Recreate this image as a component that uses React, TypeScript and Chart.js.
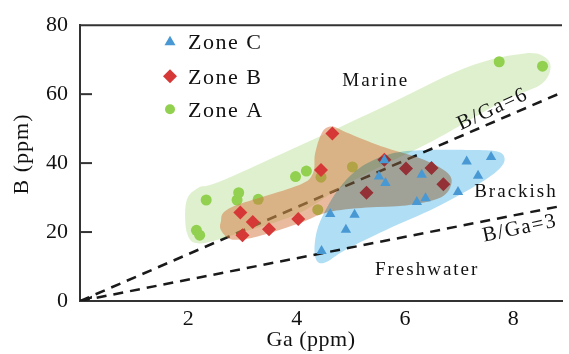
import React, { useEffect, useRef } from "react";
import { Chart, registerables } from "chart.js";

Chart.register(...registerables);

// ---- data ----
const zoneCGa = [4.46, 4.62, 4.91, 5.07, 5.52, 5.62, 5.64, 6.22, 6.31, 6.38, 6.98, 7.14, 7.35, 7.59];
const zoneCB = [14.5, 25.2, 20.7, 25.0, 36.1, 40.8, 34.2, 28.7, 36.6, 29.8, 31.6, 40.5, 36.3, 41.8];

const zoneBGa = [2.96, 3.0, 3.19, 3.49, 4.03, 4.45, 4.66, 5.29, 5.62, 6.02, 6.49, 6.71];
const zoneBB = [25.7, 19.1, 22.9, 20.8, 23.8, 38.0, 48.6, 31.4, 41.0, 38.4, 38.6, 33.9];

const zoneAGa = [2.15, 2.21, 2.33, 2.9, 2.93, 3.29, 3.98, 4.18, 4.39, 4.45, 5.03, 7.74, 8.54];
const zoneAB = [20.5, 19.1, 29.3, 29.3, 31.4, 29.5, 36.1, 37.7, 26.5, 35.9, 38.9, 69.4, 68.1];

// envelopes (Ga, B)
const envelopeAGa = [1.96, 2.18, 2.73, 5.29, 7.11, 8.21, 8.61, 8.68, 8.48, 7.84, 6.57, 5.47, 4.72, 3.98, 2.9, 2.22, 1.98];
const envelopeAB = [28.6, 32.8, 35.6, 54.0, 67.6, 71.8, 70.4, 66.7, 62.5, 58.2, 46.9, 38.4, 32.0, 25.0, 19.5, 16.7, 19.5];

const envelopeBGa = [2.6, 2.79, 4.01, 4.3, 4.34, 4.47, 4.65, 4.92, 5.56, 6.29, 6.75, 6.86, 6.66, 6.02, 5.29, 4.56, 4.01, 3.28, 2.82, 2.62];
const envelopeBB = [22.9, 27.1, 33.4, 37.0, 42.7, 48.9, 50.6, 48.9, 44.9, 41.3, 37.6, 34.2, 30.0, 27.7, 27.1, 25.7, 22.3, 18.7, 17.8, 20.1];

const envelopeCGa = [4.34, 4.37, 4.56, 4.83, 5.2, 5.74, 6.38, 7.3, 7.72, 7.84, 7.75, 7.39, 6.57, 5.65, 4.92, 4.5];
const envelopeCB = [13.0, 20.1, 27.1, 33.6, 39.0, 42.7, 43.8, 43.8, 43.3, 41.3, 38.4, 34.2, 27.1, 20.6, 15.0, 11.0];

// ratio reference lines (Ga, B) as drawn
const line6Ga = [0, 8.9];
const line6B = [0, 60.5];
const line3Ga = [0, 8.9];
const line3B = [0, 27.6];

const xTickValues = [2, 4, 6, 8];
const yTickValues = [0, 20, 40, 60, 80];

const seriesNames = ["Zone C", "Zone B", "Zone A"];

const regionLabels = ["Marine", "Brackish", "Freshwater"];
const regionLabelGa = [5.46, 8.05, 6.41];
const regionLabelB = [63.9, 31.7, 9.0];

const ratioLabels = ["B/Ga=6", "B/Ga=3"];
const ratioLabelGa = [7.62, 8.12];
const ratioLabelB = [55.6, 21.0];

const xTitle = "Ga (ppm)";
const yTitle = "B (ppm)";

// ---- styles ----
const FONT = "'Liberation Serif', 'Times New Roman', serif";
const blue = "rgb(72,152,212)";
const red = "rgb(214,56,56)";
const green = "rgb(146,208,80)";

const zip = (xs: number[], ys: number[]) => xs.map((x, i) => ({ x, y: ys[i] }));

function closedSpline(ctx: CanvasRenderingContext2D, pts: { x: number; y: number }[]) {
  const n = pts.length;
  ctx.beginPath();
  ctx.moveTo(pts[0].x, pts[0].y);
  for (let i = 0; i < n; i++) {
    const p0 = pts[(i - 1 + n) % n];
    const p1 = pts[i];
    const p2 = pts[(i + 1) % n];
    const p3 = pts[(i + 2) % n];
    const c1x = p1.x + (p2.x - p0.x) / 6;
    const c1y = p1.y + (p2.y - p0.y) / 6;
    const c2x = p2.x - (p3.x - p1.x) / 6;
    const c2y = p2.y - (p3.y - p1.y) / 6;
    ctx.bezierCurveTo(c1x, c1y, c2x, c2y, p2.x, p2.y);
  }
  ctx.closePath();
}

const regions: Record<number, { xs: number[]; ys: number[]; color: string; op: GlobalCompositeOperation }> = {
  2: { xs: envelopeAGa, ys: envelopeAB, color: "rgba(145,205,88,0.3)", op: "source-over" },
  1: { xs: envelopeBGa, ys: envelopeBB, color: "rgba(212,118,62,0.5)", op: "source-over" },
  0: { xs: envelopeCGa, ys: envelopeCB, color: "rgb(175,222,245)", op: "multiply" },
};

const decor = {
  id: "decor",
  beforeDatasetDraw(chart: any, args: any) {
    const r = regions[args.index];
    if (!r) return;
    const { ctx, chartArea, scales } = chart;
    const pts = r.xs.map((x, i) => ({ x: scales.x.getPixelForValue(x), y: scales.y.getPixelForValue(r.ys[i]) }));
    ctx.save();
    ctx.beginPath();
    ctx.rect(chartArea.left, chartArea.top, chartArea.right - chartArea.left, chartArea.bottom - chartArea.top);
    ctx.clip();
    ctx.globalCompositeOperation = r.op;
    ctx.fillStyle = r.color;
    closedSpline(ctx, pts);
    ctx.fill();
    ctx.restore();
  },
  afterDraw(chart: any) {
    const { ctx, chartArea, scales } = chart;
    const xs = scales.x;
    const ys = scales.y;
    ctx.save();
    // top frame line
    ctx.strokeStyle = "#333";
    ctx.lineWidth = 2;
    ctx.beginPath();
    ctx.moveTo(chartArea.left, chartArea.top);
    ctx.lineTo(chartArea.right, chartArea.top);
    ctx.stroke();
    // inward y ticks
    yTickValues.forEach((v) => {
      if (v === 0 || v === 80) return;
      const py = ys.getPixelForValue(v);
      ctx.beginPath();
      ctx.moveTo(chartArea.left, py);
      ctx.lineTo(chartArea.left + 12, py);
      ctx.stroke();
    });
    // small wedge at the origin where the ratio lines meet
    const wx = 0.22;
    ctx.fillStyle = "#1a1a1a";
    ctx.beginPath();
    ctx.moveTo(xs.getPixelForValue(0), ys.getPixelForValue(0));
    ctx.lineTo(xs.getPixelForValue(wx), ys.getPixelForValue((line6B[1] / line6Ga[1]) * wx));
    ctx.lineTo(xs.getPixelForValue(wx), ys.getPixelForValue((line3B[1] / line3Ga[1]) * wx));
    ctx.closePath();
    ctx.fill();

    // axis titles
    ctx.fillStyle = "#111";
    ctx.textAlign = "center";
    ctx.textBaseline = "middle";
    ctx.font = `22px ${FONT}`;
    (ctx as any).letterSpacing = "0.5px";
    ctx.fillText(xTitle, 311, 340);
    ctx.save();
    ctx.translate(22, 154);
    ctx.rotate(-Math.PI / 2);
    (ctx as any).letterSpacing = "1px";
    ctx.fillText(yTitle, 0, 0);
    ctx.restore();

    // region labels
    ctx.font = `19px ${FONT}`;
    (ctx as any).letterSpacing = "2px";
    regionLabels.forEach((t, i) => {
      ctx.fillText(t, xs.getPixelForValue(regionLabelGa[i]), ys.getPixelForValue(regionLabelB[i]));
    });
    const angles = [-25, -12];
    ctx.font = `21px ${FONT}`;
    (ctx as any).letterSpacing = "1.5px";
    ratioLabels.forEach((t, i) => {
      ctx.save();
      ctx.translate(xs.getPixelForValue(ratioLabelGa[i]), ys.getPixelForValue(ratioLabelB[i]));
      ctx.rotate((angles[i] * Math.PI) / 180);
      ctx.fillText(t, 0, 0);
      ctx.restore();
    });

    // legend
    const lx = chartArea.left + 90;
    const rows = [chartArea.top + 16, chartArea.top + 51, chartArea.top + 84];
    ctx.font = `22px ${FONT}`;
    (ctx as any).letterSpacing = "1.5px";
    ctx.textAlign = "left";
    chart.data.datasets.slice(0, 3).forEach((ds: any, i: number) => {
      const y = rows[i];
      ctx.fillStyle = ds.backgroundColor;
      ctx.beginPath();
      if (i === 0) {
        ctx.moveTo(lx, y - 5.5);
        ctx.lineTo(lx + 5.5, y + 4);
        ctx.lineTo(lx - 5.5, y + 4);
        ctx.closePath();
      } else if (i === 1) {
        ctx.moveTo(lx, y - 7);
        ctx.lineTo(lx + 7, y);
        ctx.lineTo(lx, y + 7);
        ctx.lineTo(lx - 7, y);
        ctx.closePath();
      } else {
        ctx.arc(lx, y, 5, 0, Math.PI * 2);
      }
      ctx.fill();
      ctx.fillStyle = "#111";
      ctx.fillText(ds.label, lx + 18, y + 2);
    });
    ctx.restore();
  },
};

export default function App() {
  const ref = useRef<HTMLCanvasElement | null>(null);
  useEffect(() => {
    document.body.style.margin = "0";
    const canvas = ref.current;
    if (!canvas) return;
    const chart = new Chart(canvas, {
      type: "scatter",
      data: {
        datasets: [
          {
            label: seriesNames[0],
            data: zip(zoneCGa, zoneCB),
            pointStyle: "triangle",
            pointRadius: 6,
            backgroundColor: blue,
            borderColor: blue,
            borderWidth: 0,
          },
          {
            label: seriesNames[1],
            data: zip(zoneBGa, zoneBB),
            pointStyle: "rectRot",
            pointRadius: 7,
            backgroundColor: red,
            borderColor: red,
            borderWidth: 0,
          },
          {
            label: seriesNames[2],
            data: zip(zoneAGa, zoneAB),
            pointStyle: "circle",
            pointRadius: 5.5,
            backgroundColor: green,
            borderColor: green,
            borderWidth: 0,
          },
          {
            type: "line",
            label: "B/Ga=6",
            data: zip(line6Ga, line6B),
            borderColor: "#1a1a1a",
            borderWidth: 2.5,
            borderDash: [10, 7],
            pointRadius: 0,
            fill: false,
          } as any,
          {
            type: "line",
            label: "B/Ga=3",
            data: zip(line3Ga, line3B),
            borderColor: "#1a1a1a",
            borderWidth: 2.5,
            borderDash: [10, 7],
            pointRadius: 0,
            fill: false,
          } as any,
        ],
      },
      options: {
        responsive: false,
        animation: false,
        devicePixelRatio: 1,
        layout: { padding: { top: 18, right: 0, left: 0, bottom: 0 } },
        plugins: { legend: { display: false }, tooltip: { enabled: false } },
        scales: {
          x: {
            type: "linear",
            min: 0,
            max: 8.9,
            afterBuildTicks: (s: any) => {
              s.ticks = xTickValues.map((v) => ({ value: v }));
            },
            afterFit: (s: any) => {
              s.height = 53;
            },
            grid: { display: false, drawTicks: false },
            border: { display: true, color: "#333", width: 2 },
            ticks: { padding: 5, color: "#111", font: { family: FONT, size: 22 }, maxRotation: 0, autoSkip: false },
          },
          y: {
            type: "linear",
            min: 0,
            max: 80,
            afterBuildTicks: (s: any) => {
              s.ticks = yTickValues.map((v) => ({ value: v }));
            },
            afterFit: (s: any) => {
              s.width = 80;
            },
            grid: { display: false, drawTicks: false },
            border: { display: true, color: "#333", width: 2 },
            ticks: { padding: 12, color: "#111", font: { family: FONT, size: 22 }, autoSkip: false },
          },
        },
      },
      plugins: [decor],
    });
    return () => chart.destroy();
  }, []);
  return <canvas ref={ref} width={569} height={354} style={{ display: "block", width: 569, height: 354 }} />;
}
